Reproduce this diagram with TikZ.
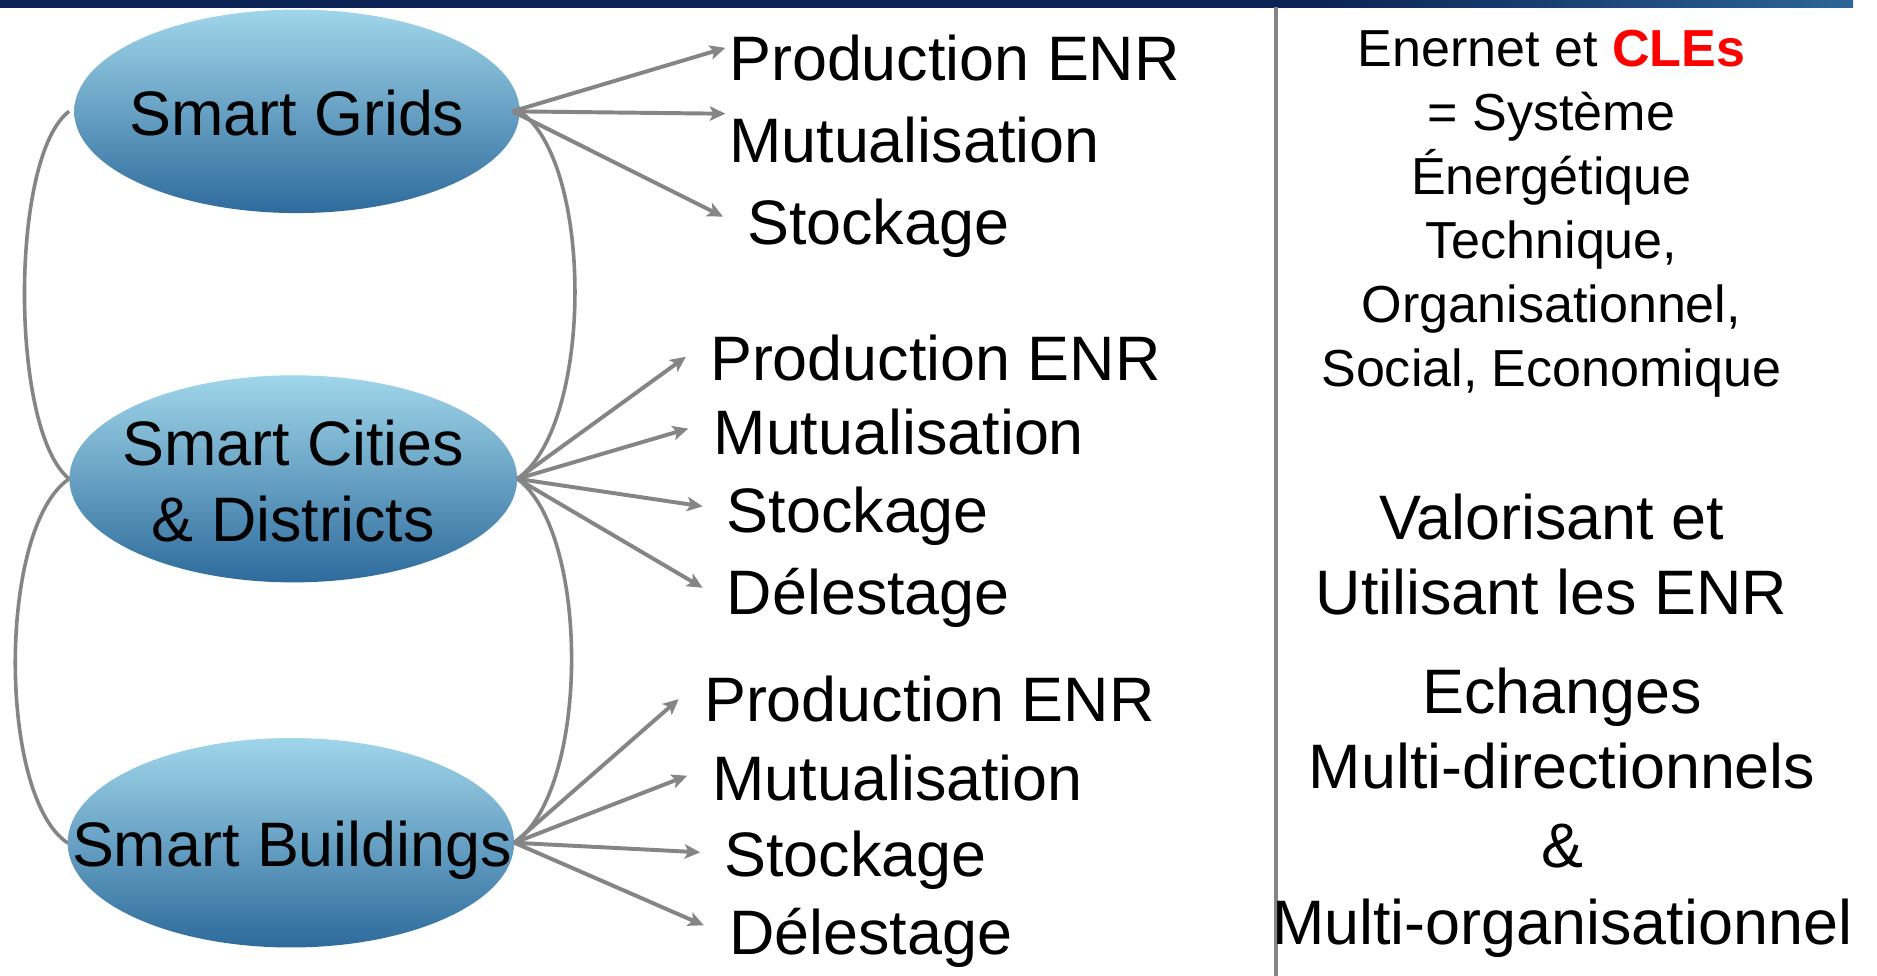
\documentclass[tikz,border=0pt]{standalone}
\usepackage{fontspec}
\setmainfont{Liberation Sans}
\usetikzlibrary{arrows.meta,shapes.geometric}

\definecolor{navy}{HTML}{0B2255}
\definecolor{bandlight}{HTML}{2C6696}
\definecolor{ovaltop}{HTML}{A0D6EA}
\definecolor{ovalbot}{HTML}{2E6B9C}
\definecolor{linkgray}{HTML}{858585}
\definecolor{clered}{HTML}{FF0000}

\newcommand\fntbig{\fontsize{52.5pt}{63pt}\selectfont}
\newcommand\fntsmall{\fontsize{43.5pt}{53.4pt}\selectfont}

\tikzset{
  oval/.style={ellipse, inner sep=0pt, top color=ovaltop, bottom color=ovalbot, draw=none},
  ovaltext/.style={anchor=base, inner sep=0pt, font=\fntbig},
  item/.style={anchor=base west, inner sep=0pt, font=\fntbig},
  note/.style={anchor=base, inner sep=0pt, font=\fntbig},
  smallnote/.style={anchor=base, inner sep=0pt, font=\fntsmall},
  fan/.style={draw=linkgray, line width=3.3pt, -{Stealth[length=13pt,width=12pt,inset=3pt]}},
  link/.style={draw=linkgray, line width=3pt},
}

\begin{document}
\begin{tikzpicture}[x=1pt,y=-1pt]
\useasboundingbox (0,0) rectangle (1568,815);

% title band
\fill[navy] (0,0) rectangle (1110,6.5);
\shade[left color=navy, right color=bandlight] (1100,0) rectangle (1548,6.5);

% divider
\draw[linkgray, line width=2.8pt] (1066,6) -- (1066,815);

% the three ovals
\node[oval, minimum width=372pt, minimum height=170pt] (g) at (248,93) {};
\node[oval, minimum width=374pt, minimum height=173pt] (c) at (245,400) {};
\node[oval, minimum width=373pt, minimum height=175pt] (b) at (243,704) {};

\node[ovaltext] (gt) at (248,113) {Smart Grids};
\node[ovaltext] (ct1) at (245,389) {Smart Cities};
\node[ovaltext] (ct2) at (245,452) {\& Districts};
\node[ovaltext] (bt) at (244,724) {Smart Buildings};

% links between the ovals
\draw[link] ([xshift=-4pt]g.west) .. controls (8,130) and (8,360) .. (c.west);
\draw[link] (c.west) .. controls (-2,440) and (-2,665) .. (b.west);
\draw[link] (g.east) .. controls (496,135) and (496,355) .. (c.east);
\draw[link] (c.east) .. controls (493,445) and (493,660) .. (b.east);

% labels, first group
\node[item] (p1) at (609,67) {Production ENR};
\node[item] (m1) at (609,136) {Mutualisation};
\node[item] (s1) at (624,204) {Stockage};
% second group
\node[item] (p2) at (593,318) {Production ENR};
\node[item] (m2) at (596,380) {Mutualisation};
\node[item] (s2) at (607,445) {Stockage};
\node[item] (d2) at (607,513) {Délestage};
% third group
\node[item] (p3) at (588,603) {Production ENR};
\node[item] (m3) at (595,669) {Mutualisation};
\node[item] (s3) at (605,732) {Stockage};
\node[item] (d3) at (609,797) {Délestage};

% arrow tips beside the labels
\coordinate (tp1) at (606,40);
\coordinate (tm1) at (606,95);
\coordinate (ts1) at (604,181);
\coordinate (tp2) at (573,298);
\coordinate (tm2) at (575,358);
\coordinate (ts2) at (587,423);
\coordinate (td2) at (587,491);
\coordinate (tp3) at (567,584);
\coordinate (tm3) at (574,648);
\coordinate (ts3) at (585,712);
\coordinate (td3) at (588,773);

\foreach \t in {tp1,tm1,ts1}
  \draw[fan] ([xshift=-6pt]g.east) -- (\t);
\foreach \t in {tp2,tm2,ts2,td2}
  \draw[fan] (c.east) -- (\t);
\foreach \t in {tp3,tm3,ts3,td3}
  \draw[fan] (b.east) -- (\t);

% right column
\node[smallnote] (r1) at (1296,55.5) {Enernet et {\bfseries\color{clered}CLEs}};
\node[smallnote] (r2) at (1296,108.9) {= Système};
\node[smallnote] (r3) at (1296,162.3) {Énergétique};
\node[smallnote] (r4) at (1296,215.7) {Technique,};
\node[smallnote] (r5) at (1296,269.1) {Organisationnel,};
\node[smallnote] (r6) at (1296,322.5) {Social, Economique};

\node[note] (v1) at (1296,451) {Valorisant et};
\node[note] (v2) at (1296,513) {Utilisant les ENR};

\node[note] (e1) at (1305,596) {Echanges};
\node[note] (e2) at (1305,659) {Multi-directionnels};
\node[note] (e3) at (1305,725) {\&};
\node[note] (e4) at (1305,789) {Multi-organisationnel};
\end{tikzpicture}
\end{document}
